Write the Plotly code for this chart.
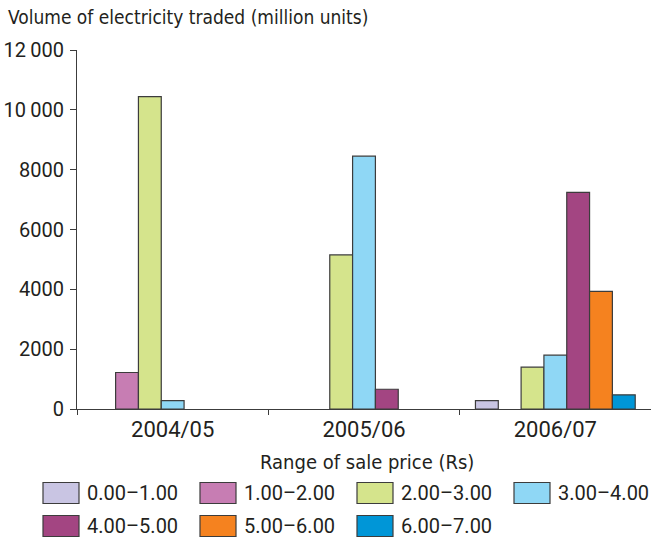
import plotly.graph_objects as go

# Trading years (x categories)
years = ["2004/05", "2005/06", "2006/07"]

# Price bands (Rs) and their volumes traded, million units (None = no trade)
bands = ["0.00–1.00", "1.00–2.00", "2.00–3.00", "3.00–4.00",
         "4.00–5.00", "5.00–6.00", "6.00–7.00"]
vol_000_100 = [None, None, 280]
vol_100_200 = [1220, None, None]
vol_200_300 = [10440, 5150, 1400]
vol_300_400 = [280, 8450, 1800]
vol_400_500 = [None, 660, 7240]
vol_500_600 = [None, None, 3930]
vol_600_700 = [None, None, 475]
volumes = [vol_000_100, vol_100_200, vol_200_300, vol_300_400,
           vol_400_500, vol_500_600, vol_600_700]

band_colors = ["#c9c5e3", "#c77db3", "#d5e48c", "#8fd7f5",
               "#a34582", "#f5821f", "#0096d7"]

y_ticks = [0, 2000, 4000, 6000, 8000, 10000, 12000]
y_tick_text = ["0", "2000", "4000", "6000", "8000", "10\u2009000", "12\u2009000"]

TEXT_FONT = "Liberation Sans Narrow, Arial Narrow, DejaVu Sans Condensed, Roboto, sans-serif"
NUM_FONT = "Roboto, Liberation Sans, sans-serif"
INK = "#231f20"
EDGE = "#3c3c3c"

W, H = 651, 539
L, R, T, B = 77, 0, 50, 130
PW, PH = W - L - R, H - T - B


def px_x(x):
    return (x - L) / PW


def px_y(y):
    return (H - B - y) / PH


fig = go.Figure()
for name, vals, col in zip(bands, volumes, band_colors):
    fig.add_trace(go.Bar(
        x=years, y=vals, name=name, showlegend=False,
        marker=dict(color=col, line=dict(color=EDGE, width=1.2)),
    ))

shapes = []
annotations = []

# Legend: two rows of swatches with labels
for i, (name, col) in enumerate(zip(bands, band_colors)):
    row, c = divmod(i, 4)
    x0 = 43 + c * 157
    yc = 493 + row * 33
    shapes.append(dict(
        type="rect", xref="paper", yref="paper",
        x0=px_x(x0), x1=px_x(x0 + 36), y0=px_y(yc + 10.5), y1=px_y(yc - 10.5),
        fillcolor=col, line=dict(color=EDGE, width=1.2), layer="above",
    ))
    annotations.append(dict(
        xref="paper", yref="paper", x=px_x(x0 + 42), y=px_y(yc),
        xanchor="left", yanchor="middle", showarrow=False, text=name,
        font=dict(family=NUM_FONT, size=20, color=INK),
    ))

# Title and x-axis caption
annotations.append(dict(
    xref="paper", yref="paper", x=px_x(6), y=px_y(17),
    xanchor="left", yanchor="middle", showarrow=False,
    text="Volume of electricity traded (million units)",
    font=dict(family=TEXT_FONT, size=19, color=INK),
))
annotations.append(dict(
    xref="paper", yref="paper", x=px_x(367), y=px_y(462),
    xanchor="center", yanchor="middle", showarrow=False,
    text="Range of sale price (Rs)",
    font=dict(family=TEXT_FONT, size=20, color=INK),
))

fig.update_layout(
    width=W, height=H,
    margin=dict(l=L, r=R, t=T, b=B, pad=0),
    paper_bgcolor="white", plot_bgcolor="white",
    barmode="group", bargap=0.165, bargroupgap=0,
    shapes=shapes, annotations=annotations,
    xaxis=dict(
        type="category", categoryorder="array", categoryarray=years,
        range=[-0.5, 2.5], showline=True, linecolor=EDGE, linewidth=1.2,
        ticks="outside", tickson="boundaries", ticklen=5, tickcolor=EDGE,
        tickwidth=1.2, showgrid=False, zeroline=False,
        tickfont=dict(family=NUM_FONT, size=22, color=INK),
    ),
    yaxis=dict(
        range=[0, 12000], tickmode="array", tickvals=y_ticks, ticktext=y_tick_text,
        showline=True, linecolor=EDGE, linewidth=1.2, ticks="outside",
        ticklen=6, tickcolor=EDGE, tickwidth=1.2, showgrid=False, zeroline=False,
        ticklabelstandoff=2,
        tickfont=dict(family=NUM_FONT, size=20, color=INK),
    ),
)

fig.write_html("out.html")
